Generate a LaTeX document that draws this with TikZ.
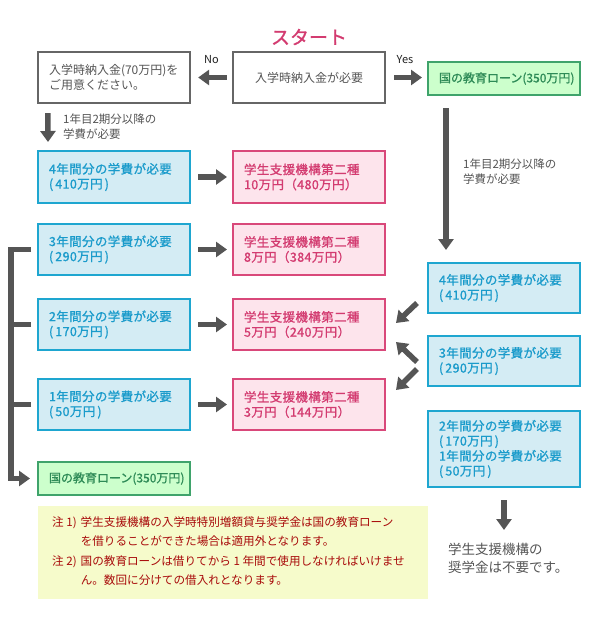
\documentclass[tikz,border=0pt]{standalone}
\usepackage{fontspec}
\setmainfont{Noto Sans CJK JP}
\newfontfamily\jpm[FakeBold=1.0]{Noto Sans CJK JP}
\newfontfamily\jpms[FakeBold=1.0,LetterSpace=3]{Noto Sans CJK JP}
\usetikzlibrary{arrows.meta}
\definecolor{grayline}{HTML}{666666}
\definecolor{graytext}{HTML}{555555}
\definecolor{arrowgray}{HTML}{555555}
\definecolor{blueline}{HTML}{1EA6D0}
\definecolor{bluefill}{HTML}{D4ECF4}
\definecolor{bluetext}{HTML}{1A9BCB}
\definecolor{pinkline}{HTML}{D9487A}
\definecolor{pinkfill}{HTML}{FDE4EC}
\definecolor{pinktext}{HTML}{D33B70}
\definecolor{greenline}{HTML}{3FA36B}
\definecolor{greenfill}{HTML}{CCFFCC}
\definecolor{greentext}{HTML}{2E8B57}
\definecolor{notefill}{HTML}{F6FBCB}
\definecolor{notetext}{HTML}{A80A0A}
\definecolor{labeltext}{HTML}{222222}
\begin{document}
\begin{tikzpicture}[x=1pt,y=-1pt,
  box/.style={rectangle, line width=2pt, minimum width=152pt, inner xsep=11pt, inner ysep=0pt, text width=130pt, align=left, anchor=center},
  graybox/.style={box, draw=grayline, fill=white, text=graytext, line width=2.3pt, font=\fontsize{12}{15}\selectfont},
  bluebox/.style={box, draw=blueline, fill=bluefill, text=bluetext, font=\jpms\fontsize{12.5}{15}\selectfont},
  pinkbox/.style={box, draw=pinkline, fill=pinkfill, text=pinktext, font=\jpms\fontsize{12.5}{15}\selectfont},
  greenbox/.style={box, draw=greenline, fill=greenfill, text=greentext, minimum height=33pt, font=\jpm\fontsize{12}{15}\selectfont},
  graylabel/.style={anchor=west, align=left, text=graytext, inner sep=0pt, font=\fontsize{11.5}{15}\selectfont},
  bigarrow/.style={draw=arrowgray, line width=5.5pt, -{Triangle[width=15pt,length=11pt]}},
  thickline/.style={draw=arrowgray, line width=5.5pt},
]
\useasboundingbox (0,0) rectangle (591,622);
\fill[white] (0,0) rectangle (591,622);

% title
\node[font=\jpm\fontsize{19}{19}\selectfont, text=pinktext, inner sep=0pt] (title) at (309,37) {スタート};

% top row
\node[graybox, align=center, minimum height=51pt] (start) at (309,77.5) {入学時納入金が必要};
\node[graybox, minimum height=51pt] (prep) at (114,77.5) {入学時納入金(70万円)を\\ご用意ください。};
\node[greenbox] (loanR) at (504,78.5) {国の教育ローン(350万円)};
\node[font=\fontsize{11}{11}\selectfont, text=labeltext, inner sep=0pt] (no) at (211.5,60) {No};
\node[font=\fontsize{11}{11}\selectfont, text=labeltext, inner sep=0pt] (yes) at (405,60) {Yes};
\draw[bigarrow, shorten <=5pt, shorten >=7pt] (start.west) -- (prep.east);
\draw[bigarrow, shorten <=8pt, shorten >=5pt] (start.east) -- (loanR.west |- start.east);

% left column
\node[bluebox, minimum height=52pt] (L1) at (114,177) {4年間分の学費が必要\\(\,410万円\,)};
\node[bluebox, minimum height=51pt] (L2) at (114,249.5) {3年間分の学費が必要\\(\,290万円\,)};
\node[bluebox, minimum height=51pt] (L3) at (114,324.5) {2年間分の学費が必要\\(\,170万円\,)};
\node[bluebox, minimum height=51pt] (L4) at (114,404.5) {1年間分の学費が必要\\(\,50万円\,)};
\node[greenbox] (loanL) at (114,478.5) {国の教育ローン(350万円)};

% left down arrow
\draw[bigarrow] ([xshift=11pt,yshift=-9pt]prep.south west) -- ([xshift=11pt,yshift=8pt]L1.north west);
\node[graylabel] (lbl1) at (63,126.5) {1年目2期分以降の\\学費が必要};

% middle column
\node[pinkbox, minimum height=52pt] (P1) at (309,177) {学生支援機構第二種\\10万円（480万円）};
\node[pinkbox, minimum height=51pt] (P2) at (309,249.5) {学生支援機構第二種\\8万円（384万円）};
\node[pinkbox, minimum height=51pt] (P3) at (309,324.5) {学生支援機構第二種\\5万円（240万円）};
\node[pinkbox, minimum height=51pt] (P4) at (309,404.5) {学生支援機構第二種\\3万円（144万円）};

\foreach \i in {1,2,3,4}{
  \draw[bigarrow, shorten <=7pt, shorten >=5pt] (L\i.east) -- (P\i.west);
}

% bracket
\draw[bigarrow, line join=miter] ([xshift=-6pt]L2.west) -- ++(-20,0) |- ([xshift=-7pt]loanL.west);
\draw[thickline] ([xshift=-6pt]L3.west) -- ++(-23,0);
\draw[thickline] ([xshift=-6pt]L4.west) -- ++(-23,0);

% right column
\node[bluebox, minimum height=50pt] (R1) at (504,288) {4年間分の学費が必要\\(\,410万円\,)};
\node[bluebox, minimum height=50pt] (R2) at (504,361) {3年間分の学費が必要\\(\,290万円\,)};
\node[bluebox, minimum height=76pt] (R3) at (504,449) {2年間分の学費が必要\\(\,170万円\,)\\1年間分の学費が必要\\(\,50万円\,)};

\draw[bigarrow] ([xshift=19pt,yshift=-12pt]loanR.south west) -- ([xshift=19pt,yshift=12pt]R1.north west);
\node[graylabel] (lbl2) at (463,171.5) {1年目2期分以降の\\学費が必要};

\draw[bigarrow] ([xshift=-10pt,yshift=11pt]R1.south west) -- ([xshift=10pt,yshift=1.5pt]P3.east);
\draw[bigarrow] ([xshift=-10pt,yshift=-1pt]R2.west) -- ([xshift=10pt,yshift=9pt]P3.south east);
\draw[bigarrow] ([xshift=-10pt,yshift=-8pt]R2.west) -- ([xshift=10pt,yshift=14.5pt]P4.east);

\draw[bigarrow] ([yshift=-12pt]R3.south) -- ([yshift=-42pt]R3.south);
\node[anchor=west, align=left, text=graytext, inner sep=0pt, font=\fontsize{13.5}{18}\selectfont] (final) at (448,558) {学生支援機構の\\奨学金は不要です。};

% notes
\node[rectangle, fill=notefill, minimum width=390pt, minimum height=93pt, inner sep=0pt] (note) at (233,552.5) {};
\node[anchor=west, inner sep=0pt, text=notetext, font=\fontsize{11.6}{19}\selectfont] (notetxt) at (52,551.5) {%
\begin{tabular}{@{}l@{\hspace{4pt}}l@{}}
注 1) & 学生支援機構の入学時特別増額貸与奨学金は国の教育ローン\\
 & を借りることができた場合は適用外となります。\\[1pt]
注 2) & 国の教育ローンは借りてから 1 年間で使用しなければいけませ\\
 & ん。数回に分けての借入れとなります。
\end{tabular}};
\end{tikzpicture}
\end{document}
